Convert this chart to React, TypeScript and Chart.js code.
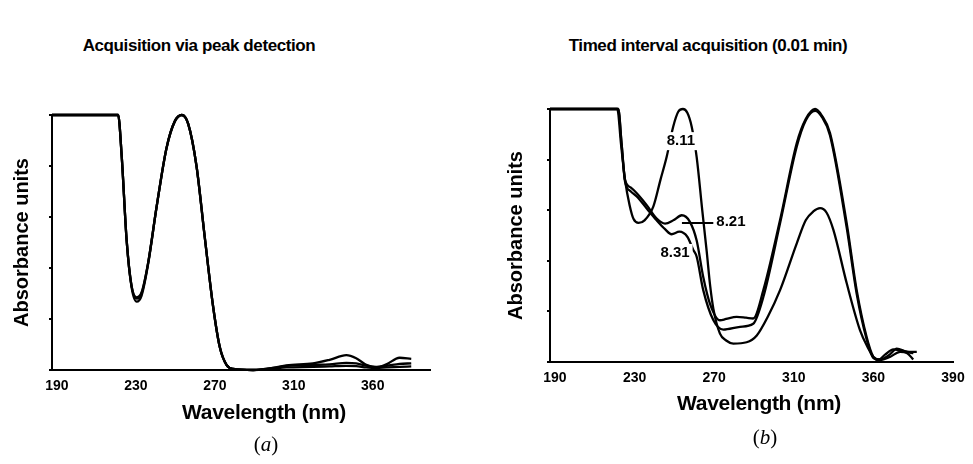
import React, { useEffect, useRef } from 'react';
import { Chart, registerables } from 'chart.js';

Chart.register(...registerables);

// ---------- axis tick labels (evenly spaced on the printed axis) ----------
const tickLabelsA = ['190', '230', '270', '310', '360'];
const tickLabelsB = ['190', '230', '270', '310', '360', '390'];

// ---------- panel (a): acquisition via peak detection ----------
const aWavelength = [187.5, 221.0, 222.8, 225.3, 227.8, 230.4, 232.9, 236.2, 240.5, 245.5, 249.7, 253.3, 256.5, 260.7, 264.9, 269.1, 272.5, 275.9, 279.3, 289.4, 299.5, 306.3, 319.7, 328.1, 336.6, 341.6, 346.7, 351.8, 356.9, 363.6, 369.5];
const aSpectrum1 = [1.0, 1.0, 0.84, 0.51, 0.33, 0.285, 0.305, 0.42, 0.64, 0.87, 0.975, 1.0, 0.965, 0.8, 0.52, 0.25, 0.09, 0.02, 0.004, 0.0, 0.008, 0.018, 0.026, 0.04, 0.058, 0.046, 0.02, 0.01, 0.022, 0.048, 0.044];
const aSpectrum2 = [1.0, 1.0, 0.84, 0.51, 0.325, 0.268, 0.292, 0.415, 0.64, 0.87, 0.975, 1.0, 0.965, 0.8, 0.52, 0.25, 0.09, 0.02, 0.004, 0.0, 0.008, 0.016, 0.02, 0.022, 0.028, 0.026, 0.017, 0.012, 0.016, 0.024, 0.026];
const aSpectrum3 = [1.0, 1.0, 0.84, 0.51, 0.33, 0.28, 0.3, 0.42, 0.64, 0.87, 0.975, 1.0, 0.965, 0.8, 0.52, 0.25, 0.09, 0.02, 0.004, 0.0, 0.006, 0.01, 0.012, 0.014, 0.016, 0.015, 0.01, 0.008, 0.01, 0.012, 0.014];

// ---------- panel (b): timed interval acquisition ----------
const b811Wavelength = [187.5, 221.3, 223.2, 225.2, 227.5, 229.5, 232.0, 235.0, 239.4, 243.0, 246.1, 249.4, 252.0, 254.3, 256.5, 258.7, 261.2, 264.0, 266.2, 268.0, 269.6, 272.9, 276.0, 279.6, 286.3, 291.4, 297.0, 303.1, 311.5, 316.0, 319.8, 323.2, 326.5, 329.9, 336.6, 343.3, 347.0, 350.1, 353.4, 358.3, 361.7, 366.7, 370.1];
const b811Absorbance = [1.0, 1.0, 0.86, 0.72, 0.62, 0.565, 0.55, 0.56, 0.614, 0.72, 0.81, 0.93, 0.99, 1.0, 0.985, 0.93, 0.81, 0.6, 0.44, 0.3, 0.21, 0.112, 0.085, 0.073, 0.078, 0.105, 0.18, 0.284, 0.469, 0.56, 0.595, 0.608, 0.59, 0.522, 0.311, 0.125, 0.06, 0.02, 0.01, 0.03, 0.053, 0.04, 0.035];

const b821Wavelength = [187.5, 221.8, 223.5, 225.2, 228.0, 231.1, 236.1, 241.1, 245.3, 249.5, 253.7, 257.8, 261.2, 264.5, 267.9, 272.9, 276.0, 281.3, 286.0, 289.6, 294.7, 303.1, 311.5, 316.0, 320.7, 324.0, 328.2, 336.6, 341.6, 346.6, 350.0, 352.5, 356.0, 360.0, 364.0, 368.0, 371.8];
const b821Absorbance = [1.0, 1.0, 0.86, 0.72, 0.69, 0.667, 0.62, 0.567, 0.547, 0.56, 0.58, 0.554, 0.48, 0.336, 0.23, 0.165, 0.17, 0.178, 0.175, 0.172, 0.284, 0.561, 0.865, 0.96, 1.0, 0.975, 0.905, 0.548, 0.284, 0.099, 0.02, 0.008, 0.03, 0.05, 0.045, 0.04, 0.04];

const b831Wavelength = [187.5, 221.8, 223.5, 225.2, 228.0, 231.1, 236.1, 241.1, 245.3, 248.6, 252.5, 256.5, 259.5, 261.2, 264.5, 269.6, 274.6, 283.0, 289.6, 294.7, 303.1, 311.5, 316.0, 320.7, 324.0, 328.2, 336.6, 341.6, 346.6, 350.0, 353.4, 358.3, 363.4, 367.0, 370.0];
const b831Absorbance = [1.0, 1.0, 0.86, 0.713, 0.675, 0.654, 0.607, 0.56, 0.525, 0.505, 0.515, 0.495, 0.443, 0.416, 0.284, 0.165, 0.128, 0.139, 0.151, 0.257, 0.548, 0.852, 0.955, 0.993, 0.97, 0.895, 0.53, 0.27, 0.09, 0.015, 0.008, 0.02, 0.04, 0.035, 0.01];

// ---------- curve labels in panel (b) (retention times, min) ----------
const bLabelText = ['8.11', '8.21', '8.31'];
const bLabelWavelength = [253.3, 278.4, 250.3];
const bLabelAbsorbance = [0.873, 0.553, 0.431];

const SANS = '"Liberation Sans", Arial, Helvetica, sans-serif';

function points(xs: number[], ys: number[]) {
  return xs.map((x, i) => ({ x, y: ys[i] }));
}

const curveLabelPlugin = {
  id: 'curveLabels',
  afterDatasetsDraw(chart: any, _args: any, opts: any) {
    if (!opts || !opts.enabled) return;
    const { ctx, scales } = chart;
    ctx.save();
    ctx.font = `bold 15px ${SANS}`;
    ctx.textAlign = 'center';
    ctx.textBaseline = 'middle';
    bLabelText.forEach((t, i) => {
      const cx = scales.x.getPixelForValue(bLabelWavelength[i]);
      const cy = scales.y.getPixelForValue(bLabelAbsorbance[i]);
      const w = ctx.measureText(t).width;
      if (i === 1) {
        // leader line from label to its curve
        ctx.strokeStyle = '#000';
        ctx.lineWidth = 2;
        ctx.beginPath();
        ctx.moveTo(scales.x.getPixelForValue(253.8), scales.y.getPixelForValue(0.549));
        ctx.lineTo(cx - w / 2 - 1, scales.y.getPixelForValue(0.549));
        ctx.stroke();
      }
      ctx.fillStyle = '#fff';
      ctx.fillRect(cx - w / 2 - 3, cy - 9, w + 6, 18);
      ctx.fillStyle = '#000';
      ctx.fillText(t, cx, cy);
    });
    ctx.restore();
  },
};

interface PanelProps {
  series: { x: number[]; y: number[] }[];
  tickLabels: string[];
  xMin: number;
  xMax: number;
  width: number;
  height: number;
  yAxisWidth: number;
  xAxisHeight: number;
  padTop: number;
  padRight: number;
  yTitlePad: number;
  labels: boolean;
}

function Panel(p: PanelProps) {
  const ref = useRef<HTMLCanvasElement | null>(null);
  useEffect(() => {
    if (!ref.current) return;
    const chart = new Chart(ref.current, {
      type: 'line',
      data: {
        datasets: p.series.map((s) => ({
          data: points(s.x, s.y),
          borderColor: '#000',
          borderWidth: 2.3,
          pointRadius: 0,
          fill: false,
          cubicInterpolationMode: 'monotone' as const,
          clip: false as any,
        })),
      },
      options: {
        animation: false,
        responsive: false,
        maintainAspectRatio: false,
        layout: { padding: { top: p.padTop, right: p.padRight, left: 0, bottom: 0 } },
        plugins: {
          legend: { display: false },
          tooltip: { enabled: false },
          curveLabels: { enabled: p.labels },
        } as any,
        scales: {
          x: {
            type: 'linear',
            min: p.xMin,
            max: p.xMax,
            afterBuildTicks: (scale: any) => {
              scale.ticks = p.tickLabels.map((_, i) => ({ value: 190 + 40 * i }));
            },
            afterFit: (scale: any) => {
              scale.height = p.xAxisHeight;
            },
            ticks: {
              autoSkip: false,
              maxRotation: 0,
              padding: 8,
              color: '#000',
              font: { family: SANS, size: 14, weight: 'bold' },
              callback: (v: any) => p.tickLabels[Math.round((Number(v) - 190) / 40)],
            },
            grid: { display: false, drawTicks: false },
            border: { display: true, color: '#000', width: 2 },
            title: { display: false },
          },
          y: {
            type: 'linear',
            min: 0,
            max: 1,
            afterFit: (scale: any) => {
              scale.width = p.yAxisWidth;
            },
            ticks: { display: false, stepSize: 0.2 },
            grid: { drawOnChartArea: false, drawTicks: true, tickLength: 3, color: '#000', lineWidth: 2 },
            border: { display: true, color: '#000', width: 2 },
            title: {
              display: true,
              text: 'Absorbance units',
              color: '#000',
              font: { family: SANS, size: 20, weight: 'bold' },
              padding: { top: p.yTitlePad, bottom: 0 },
            },
          },
        },
      } as any,
      plugins: [curveLabelPlugin],
    });
    return () => chart.destroy();
  }, []);
  return <canvas ref={ref} width={p.width} height={p.height} style={{ width: p.width, height: p.height, display: 'block' }} />;
}

const titleStyle: React.CSSProperties = {
  position: 'absolute',
  fontFamily: SANS,
  fontWeight: 'bold',
  fontSize: 17,
  letterSpacing: -0.4,
  whiteSpace: 'nowrap',
  transform: 'translateX(-50%)',
  color: '#000',
};

const axisTitleStyle: React.CSSProperties = {
  position: 'absolute',
  fontFamily: SANS,
  fontWeight: 'bold',
  fontSize: 21,
  letterSpacing: -0.3,
  lineHeight: '24px',
  whiteSpace: 'nowrap',
  transform: 'translateX(-50%)',
  color: '#000',
};

const captionStyle: React.CSSProperties = {
  position: 'absolute',
  fontFamily: '"Liberation Serif", "Times New Roman", serif',
  fontSize: 21,
  whiteSpace: 'nowrap',
  transform: 'translateX(-50%)',
  color: '#000',
};

export default function App() {
  return (
    <div style={{ position: 'fixed', left: 0, top: 0, width: 973, height: 464, background: '#fff', overflow: 'hidden' }}>
      <div style={{ ...titleStyle, left: 199, top: 36 }}>Acquisition via peak detection</div>
      <div style={{ ...titleStyle, left: 708, top: 36 }}>Timed interval acquisition (0.01 min)</div>
      <div style={{ position: 'absolute', left: 0, top: 0 }}>
        <Panel
          series={[
            { x: aWavelength, y: aSpectrum1 },
            { x: aWavelength, y: aSpectrum2 },
            { x: aWavelength, y: aSpectrum3 },
          ]}
          tickLabels={tickLabelsA}
          xMin={187.5}
          xMax={379}
          width={480}
          height={464}
          yAxisWidth={52}
          xAxisHeight={94}
          padTop={115}
          padRight={50}
          yTitlePad={10}
          labels={false}
        />
      </div>
      <div style={{ position: 'absolute', left: 480, top: 0 }}>
        <Panel
          series={[
            { x: b811Wavelength, y: b811Absorbance },
            { x: b821Wavelength, y: b821Absorbance },
            { x: b831Wavelength, y: b831Absorbance },
          ]}
          tickLabels={tickLabelsB}
          xMin={187.5}
          xMax={390}
          width={493}
          height={464}
          yAxisWidth={70}
          xAxisHeight={102}
          padTop={109}
          padRight={20}
          yTitlePad={24}
          labels={true}
        />
      </div>
      <div style={{ ...axisTitleStyle, left: 264, top: 400 }}>Wavelength (nm)</div>
      <div style={{ ...axisTitleStyle, left: 759, top: 391 }}>Wavelength (nm)</div>
      <div style={{ ...captionStyle, left: 266, top: 432 }}>
        (<i>a</i>)
      </div>
      <div style={{ ...captionStyle, left: 765, top: 425 }}>
        (<i>b</i>)
      </div>
    </div>
  );
}
